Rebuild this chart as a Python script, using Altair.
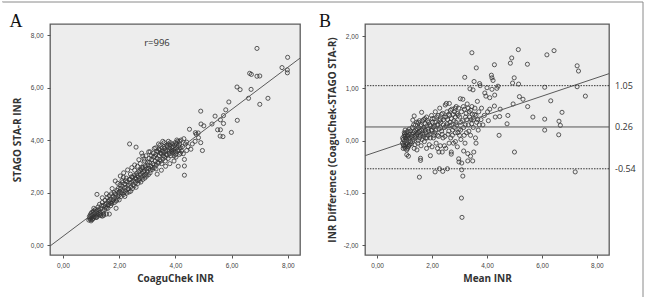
import altair as alt
import pandas as pd

# ---- Panel A: CoaguChek INR (x) vs STAGO STA-R INR (y) ----
a_low = [
    (0.92, 0.95), (0.95, 1.02), (0.98, 0.98), (1.00, 1.05), (1.02, 1.10), (1.04, 0.97),
    (1.05, 1.12), (1.08, 1.03), (1.10, 1.18), (1.12, 1.08), (0.97, 1.14), (1.00, 0.92),
    (1.06, 1.00), (1.14, 1.22), (1.16, 1.05), (1.18, 1.15), (1.20, 1.28), (0.94, 1.08),
    (1.03, 1.25), (1.22, 1.10), (1.25, 1.20), (1.28, 1.32), (1.30, 1.15), (1.35, 1.12),
    (1.40, 1.10), (1.45, 1.13), (1.10, 1.30), (1.15, 1.35), (1.00, 1.20), (1.08, 1.27),
    (1.35, 1.18), (1.45, 1.18), (1.55, 1.18), (1.65, 1.18),
]
a_band_1 = [
    (1.25, 1.45), (1.30, 1.55), (1.35, 1.38), (1.40, 1.62), (1.45, 1.50), (1.50, 1.70),
    (1.52, 1.45), (1.55, 1.60), (1.58, 1.80), (1.60, 1.52), (1.62, 1.68), (1.65, 1.88),
    (1.68, 1.60), (1.70, 1.75), (1.72, 1.95), (1.75, 1.65), (1.78, 1.85), (1.80, 1.72),
    (1.82, 2.00), (1.85, 1.80), (1.88, 1.92), (1.90, 1.68), (1.92, 2.08), (1.95, 1.85),
    (1.98, 1.98), (1.89, 1.40), (1.21, 1.93), (1.48, 1.35), (1.60, 1.40), (1.70, 1.50),
    (1.10, 1.40), (1.20, 1.05), (1.25, 1.35), (1.32, 1.25), (1.38, 1.50), (1.42, 1.30),
    (1.50, 1.55), (1.55, 1.40), (1.62, 1.55), (1.66, 1.72), (1.74, 1.58), (1.77, 1.70),
    (1.83, 1.62), (1.86, 1.95), (1.93, 1.75), (1.96, 2.15), (1.40, 1.80), (1.55, 1.95),
    (1.75, 2.15), (1.95, 2.35),
]
a_band_2 = [
    (2.00, 1.90), (2.02, 2.05), (2.05, 2.15), (2.08, 1.98), (2.10, 2.25), (2.12, 2.08),
    (2.15, 1.92), (2.18, 2.18), (2.20, 2.32), (2.22, 2.05), (2.25, 2.20), (2.28, 2.40),
    (2.30, 2.12), (2.32, 2.28), (2.35, 2.02), (2.38, 2.35), (2.40, 2.50), (2.42, 2.22),
    (2.45, 2.40), (2.48, 2.58), (2.50, 2.30), (2.52, 2.45), (2.55, 2.65), (2.58, 2.38),
    (2.60, 2.52), (2.62, 2.72), (2.65, 2.45), (2.68, 2.60), (2.70, 2.80), (2.72, 2.52),
    (2.75, 2.68), (2.78, 2.88), (2.80, 2.58), (2.82, 2.75), (2.85, 2.95), (2.88, 2.65),
    (2.90, 2.82), (2.92, 3.02), (2.95, 2.70), (2.98, 2.90), (1.86, 2.44), (2.04, 2.63),
    (2.16, 2.75), (2.30, 2.86), (2.37, 3.85), (2.60, 3.73), (2.80, 3.50), (2.84, 3.39),
    (2.88, 3.28), (2.10, 2.45), (2.25, 2.55), (2.40, 2.70), (2.55, 2.85), (2.65, 3.00),
    (2.75, 3.10), (2.90, 3.20),
    (2.00, 1.72), (2.03, 2.30), (2.07, 1.85), (2.12, 2.38), (2.17, 2.00), (2.20, 1.85),
    (2.23, 2.45), (2.27, 1.98), (2.33, 2.15), (2.36, 2.50), (2.41, 2.05), (2.44, 2.60),
    (2.47, 2.15), (2.53, 2.25), (2.57, 2.55), (2.60, 2.20), (2.64, 2.65), (2.67, 2.35),
    (2.71, 2.45), (2.74, 2.85), (2.77, 2.40), (2.81, 2.95), (2.84, 2.50), (2.87, 2.78),
    (2.91, 2.55), (2.94, 2.98), (2.97, 2.62), (2.45, 2.95), (2.55, 3.05), (2.70, 3.25),
    (2.15, 2.58),
]
a_band_3 = [
    (3.00, 2.80), (3.02, 3.05), (3.05, 2.92), (3.08, 3.15), (3.10, 2.75), (3.12, 3.00),
    (3.15, 3.25), (3.18, 2.88), (3.20, 3.10), (3.22, 3.35), (3.25, 2.95), (3.28, 3.20),
    (3.30, 3.45), (3.32, 3.05), (3.35, 3.30), (3.38, 3.55), (3.40, 3.12), (3.42, 3.40),
    (3.45, 3.62), (3.48, 3.20), (3.50, 3.48), (3.52, 3.70), (3.55, 3.28), (3.58, 3.52),
    (3.60, 3.75), (3.62, 3.35), (3.65, 3.58), (3.68, 3.80), (3.70, 3.42), (3.72, 3.62),
    (3.75, 3.85), (3.78, 3.48), (3.80, 3.68), (3.82, 3.90), (3.85, 3.55), (3.88, 3.72),
    (3.90, 3.50), (3.92, 3.60), (3.95, 3.40), (3.98, 3.65), (4.00, 3.55), (4.02, 3.35),
    (4.05, 3.70), (4.08, 3.95), (4.10, 3.00), (4.12, 3.60), (4.15, 3.85), (4.18, 3.50),
    (4.20, 4.00), (4.32, 3.26), (4.32, 3.01), (4.32, 2.66), (3.30, 3.70), (3.45, 3.80),
    (3.60, 3.90), (3.75, 3.95), (3.90, 3.85), (4.00, 3.90), (4.25, 3.75), (4.40, 3.60),
    (4.55, 3.65), (4.74, 4.22), (4.82, 4.09), (4.90, 3.90), (4.96, 3.60), (3.35, 2.70),
    (3.50, 2.85), (3.65, 3.00), (3.80, 3.10), (3.95, 3.20), (4.05, 4.00), (4.15, 3.95),
    (4.30, 4.05), (4.40, 3.92),
    (3.01, 3.15), (3.04, 2.68), (3.07, 3.30), (3.11, 2.85), (3.14, 3.40), (3.17, 2.95),
    (3.21, 3.50), (3.24, 3.05), (3.27, 3.38), (3.31, 2.90), (3.34, 3.58), (3.37, 3.15),
    (3.41, 3.65), (3.44, 3.25), (3.47, 3.50), (3.51, 3.10), (3.54, 3.58), (3.57, 3.40),
    (3.61, 3.68), (3.64, 3.20), (3.67, 3.45), (3.71, 3.75), (3.74, 3.30), (3.77, 3.58),
    (3.81, 3.80), (3.84, 3.40), (3.87, 3.62), (3.91, 3.75), (3.94, 3.55), (3.97, 3.80),
    (4.01, 3.45), (4.04, 3.85), (4.07, 3.62), (4.11, 3.78), (4.14, 3.45), (4.17, 3.70),
    (4.22, 3.58), (4.28, 3.48), (4.35, 3.85), (4.45, 3.75), (4.60, 3.85), (4.70, 3.95),
    (3.10, 3.55), (3.25, 3.68), (3.40, 3.85), (3.55, 3.95), (2.95, 3.40), (3.05, 3.55),
]
a_high = [
    (6.90, 7.49), (7.99, 7.15), (7.79, 6.76), (7.98, 6.67), (7.98, 6.56), (6.64, 6.54),
    (6.70, 6.50), (6.90, 6.43), (7.00, 6.44), (6.19, 6.02), (6.30, 5.92), (6.69, 5.93),
    (6.60, 5.59), (7.29, 5.59), (7.00, 5.36), (5.90, 5.45), (5.79, 5.15), (5.71, 4.93),
    (4.90, 5.10), (4.91, 4.61), (5.01, 4.54), (5.30, 4.61), (5.60, 4.77), (5.71, 4.63),
    (6.20, 4.75), (5.50, 4.39), (5.60, 4.39), (5.99, 4.29), (4.50, 4.41), (4.71, 4.28),
    (4.81, 4.27), (5.59, 4.15), (5.69, 4.13), (5.41, 4.91),
]

# fitted line endpoints and correlation note for panel A
fit_a_x = [-0.46, 8.43]
fit_a_y = [-0.04, 7.12]
r_note = "r=996"

# ---- Panel B: Bland-Altman, mean INR (x) vs difference (y) ----
b_cluster = [
    (0.92, -0.05), (0.95, 0.02), (0.97, -0.10), (0.98, 0.08), (1.00, -0.02), (1.00, 0.12),
    (1.02, -0.15), (1.03, 0.05), (1.05, -0.08), (1.05, 0.15), (1.07, 0.00), (1.08, -0.18),
    (1.10, 0.10), (1.10, -0.05), (1.12, 0.18), (1.13, -0.12), (1.15, 0.03), (1.17, 0.22),
    (1.18, -0.08), (1.20, 0.12), (0.95, -0.15), (1.02, 0.20), (1.22, -0.02), (1.25, 0.08),
    (1.08, -0.27), (1.14, -0.30),
    (0.93, 0.05), (0.96, -0.08), (0.99, 0.15), (1.01, -0.12), (1.04, 0.10), (1.06, -0.05),
    (1.09, 0.05), (1.11, -0.15), (1.13, 0.08), (1.16, -0.10), (1.19, 0.05), (1.21, 0.18),
    (1.24, -0.06), (1.27, 0.12), (1.29, -0.02),
]
b_band_1 = [
    (1.28, 0.25), (1.30, 0.39), (1.32, 0.02), (1.35, 0.47), (1.36, 0.18), (1.38, -0.08),
    (1.40, 0.30), (1.42, 0.10), (1.45, 0.22), (1.48, -0.05), (1.50, 0.35), (1.52, 0.15),
    (1.55, 0.05), (1.58, 0.28), (1.60, -0.10), (1.62, 0.54), (1.62, 0.20), (1.65, 0.38),
    (1.68, 0.08), (1.70, 0.25), (1.72, -0.02), (1.75, 0.32), (1.78, 0.15), (1.80, 0.45),
    (1.82, 0.05), (1.85, 0.22), (1.88, 0.35), (1.90, -0.08), (1.92, 0.12), (1.95, 0.28),
    (1.98, 0.48), (1.58, -0.34), (1.58, -0.38), (1.94, -0.29), (1.54, -0.70), (1.45, 0.12),
    (1.55, 0.18), (1.65, 0.12), (1.75, 0.20), (1.85, 0.10), (1.30, 0.15), (1.40, 0.05),
    (1.50, 0.00), (1.70, 0.40),
    (1.33, 0.30), (1.37, 0.08), (1.41, 0.20), (1.44, 0.35), (1.47, 0.15), (1.51, 0.25),
    (1.54, 0.38), (1.57, 0.10), (1.61, 0.30), (1.64, 0.02), (1.67, 0.22), (1.71, 0.12),
    (1.74, 0.42), (1.77, 0.05), (1.81, 0.28), (1.84, 0.38), (1.87, 0.18), (1.91, 0.30),
    (1.94, 0.05), (1.97, 0.20), (1.80, -0.15), (1.35, -0.15), (1.45, -0.18),
]
b_band_2 = [
    (2.00, 0.20), (2.02, 0.35), (2.05, 0.05), (2.08, 0.42), (2.10, 0.15), (2.12, 0.55),
    (2.15, -0.05), (2.18, 0.30), (2.20, 0.10), (2.22, 0.48), (2.25, 0.22), (2.28, 0.62),
    (2.30, -0.10), (2.32, 0.35), (2.35, 0.18), (2.38, 0.52), (2.40, 0.05), (2.42, 0.40),
    (2.45, 0.25), (2.48, 0.68), (2.50, -0.15), (2.52, 0.71), (2.55, 0.32), (2.58, 0.12),
    (2.60, 0.50), (2.63, 0.71), (2.65, 0.28), (2.68, 0.05), (2.70, 0.42), (2.72, 0.60),
    (2.75, 0.20), (2.78, -0.05), (2.80, 0.38), (2.82, 0.55), (2.85, 0.15), (2.88, 0.65),
    (2.90, 0.30), (2.92, -0.12), (2.95, 0.48), (2.98, 0.22), (2.25, -0.22), (2.37, -0.22),
    (2.70, -0.22), (2.70, -0.26), (2.11, -0.60), (2.27, -0.54), (2.39, -0.59), (2.56, -0.54),
    (2.97, -0.35), (2.98, -0.41), (2.10, 0.28), (2.30, 0.40), (2.50, 0.45), (2.65, 0.35),
    (2.85, 0.45),
    (2.01, 0.42), (2.04, 0.25), (2.07, 0.10), (2.11, 0.35), (2.14, 0.20), (2.17, 0.45),
    (2.21, 0.30), (2.24, 0.08), (2.27, 0.38), (2.31, 0.25), (2.34, 0.50), (2.37, 0.12),
    (2.41, 0.30), (2.44, 0.45), (2.47, 0.08), (2.51, 0.28), (2.54, 0.55), (2.57, 0.40),
    (2.61, 0.18), (2.64, 0.48), (2.67, 0.58), (2.71, 0.30), (2.74, 0.10), (2.77, 0.50),
    (2.81, 0.25), (2.84, 0.62), (2.87, 0.35), (2.91, 0.52), (2.94, 0.15), (2.97, 0.62),
    (2.20, -0.15), (2.45, -0.10), (2.62, -0.05), (2.85, -0.02), (2.00, -0.12),
]
b_band_3 = [
    (3.00, 0.10), (3.03, 0.80), (3.05, 0.35), (3.08, -0.56), (3.08, -0.43), (3.07, -1.10),
    (3.09, -1.47), (3.12, -0.68), (3.12, 0.79), (3.15, 0.25), (3.18, 0.60), (3.19, 1.21),
    (3.20, -0.05), (3.22, 0.45), (3.25, 0.15), (3.28, 0.70), (3.30, -0.39), (3.32, 0.30),
    (3.35, 0.55), (3.38, 0.99), (3.40, 0.10), (3.42, 0.40), (3.45, 1.68), (3.45, 0.65),
    (3.48, -0.39), (3.49, 0.97), (3.50, 0.25), (3.52, -0.22), (3.53, 1.13), (3.55, 0.50),
    (3.58, 0.05), (3.61, 1.39), (3.62, 0.35), (3.65, 0.75), (3.68, 0.20), (3.70, 0.55),
    (3.73, 1.09), (3.75, 1.05), (3.78, 0.40), (3.80, 0.62), (3.85, 0.30), (3.90, 0.48),
    (3.92, 0.91), (3.96, 0.85), (4.00, 1.01), (4.02, 0.55), (4.05, 0.38), (4.10, 0.82),
    (4.10, 0.60), (4.16, 1.25), (4.18, 1.20), (4.18, 0.98), (4.22, 1.15), (4.27, 1.45),
    (4.27, 0.66), (4.28, 0.87), (4.30, 0.45), (4.36, 1.00), (4.40, 1.04), (4.46, 0.46),
    (4.44, 0.10), (4.48, 0.60), (3.15, -0.20), (3.30, -0.25), (3.40, -0.30),
    (3.01, 0.45), (3.04, 0.20), (3.07, 0.55), (3.11, 0.38), (3.14, 0.65), (3.17, 0.10),
    (3.21, 0.30), (3.24, 0.52), (3.27, 0.40), (3.31, 0.62), (3.34, 0.18), (3.37, 0.45),
    (3.41, 0.58), (3.44, 0.32), (3.47, 0.50), (3.51, 0.40), (3.56, 0.62), (3.60, 0.48),
    (3.66, 0.40), (3.72, 0.30), (3.60, -0.05), (3.05, 0.02),
]
b_high = [
    (4.76, 0.48), (4.73, 0.32), (4.85, 1.48), (4.90, 1.58), (4.93, 1.10), (4.95, 0.70),
    (4.99, 1.20), (5.00, -0.22), (5.14, 1.74), (5.15, 1.08), (5.18, 0.84), (5.31, 0.79),
    (5.47, 1.46), (5.48, 0.65), (5.67, 0.45), (6.10, 1.02), (6.10, 0.41), (6.10, 0.20),
    (6.18, 1.64), (6.32, 0.76), (6.44, 1.72), (6.61, 0.11), (6.62, 0.37), (6.67, 0.29),
    (6.73, 0.54), (7.21, -0.60), (7.28, 1.43), (7.33, 1.33), (7.28, 1.03), (7.58, 0.85),
]

fit_b_x = [-0.44, 8.44]
fit_b_y = [-0.29, 1.28]

# mean difference and limits of agreement
loa_values = [1.05, 0.26, -0.54]
loa_labels = ["1.05", "0.26", "-0.54"]
loa_kind = ["limit", "mean", "limit"]

# ---- tables ----
pts_a = pd.DataFrame(a_low + a_band_1 + a_band_2 + a_band_3 + a_high,
                     columns=["coag", "stago"])
pts_b = pd.DataFrame(b_cluster + b_band_1 + b_band_2 + b_band_3 + b_high,
                     columns=["mean", "diff"])
line_a = pd.DataFrame({"coag": fit_a_x, "stago": fit_a_y})
line_b = pd.DataFrame({"mean": fit_b_x, "diff": fit_b_y})
loa = pd.DataFrame({"v": loa_values, "label": loa_labels, "kind": loa_kind})
one_row = pd.DataFrame({"k": [0]})  # single datum for annotations

TICK_FMT = "replace(replace(format(datum.value, '.2f'), '.', ','), '\u2212', '-')"
BOLD = "Open Sans"
INK = "#333333"
PT = dict(shape="circle", filled=False, size=17, stroke="#333333", strokeWidth=0.8, opacity=1)


def axis(title, values, title_pad):
    return alt.Axis(title=title, values=values, labelExpr=TICK_FMT, grid=False, domain=False,
                    tickSize=3, tickColor="#555555", labelFontSize=6.5, labelColor="#444444",
                    labelPadding=4, titleFontSize=10, titleFont=BOLD, titleFontWeight="bold",
                    titleColor=INK, titlePadding=title_pad)


sx_a = alt.Scale(domain=[-0.46, 8.43], nice=False, zero=False)
sy_a = alt.Scale(domain=[-0.38, 8.42], nice=False, zero=False)
sx_b = alt.Scale(domain=[-0.44, 8.44], nice=False, zero=False)
sy_b = alt.Scale(domain=[-2.19, 2.23], nice=False, zero=False)

xa = alt.X("coag:Q", scale=sx_a, axis=axis("CoaguChek INR", [0, 2, 4, 6, 8], 5))
ya = alt.Y("stago:Q", scale=sy_a, axis=axis("STAGO STA-R INR", [0, 2, 4, 6, 8], 8))

scatter_a = alt.Chart(pts_a).mark_point(**PT).encode(x=xa, y=ya)
fit_a = alt.Chart(line_a).mark_line(color="#5a5a5a", strokeWidth=1, clip=True).encode(x=xa, y=ya)
note_a = alt.Chart(one_row).mark_text(fontSize=9.5, font="Open Sans", color=INK).encode(
    x=alt.value(107), y=alt.value(19), text=alt.value(r_note))
letter_a = alt.Chart(one_row).mark_text(fontSize=18, font="Liberation Serif", color="#111111",
                                        baseline="alphabetic").encode(
    x=alt.value(-34), y=alt.value(3), text=alt.value("A"))

# figure frame: top and right edges; white left edge keeps the left margin
frame = [
    alt.Chart(one_row).mark_rule(color="#8a8a8a", strokeWidth=1).encode(
        x=alt.value(-48), x2=alt.value(593), y=alt.value(-22)),
    alt.Chart(one_row).mark_rule(color="#8a8a8a", strokeWidth=1).encode(
        x=alt.value(593), y=alt.value(-22), y2=alt.value(273)),
    alt.Chart(one_row).mark_rule(color="white", strokeWidth=1).encode(
        x=alt.value(-48), y=alt.value(-22), y2=alt.value(273)),
]

panel_a = alt.layer(scatter_a, fit_a, note_a, letter_a, *frame).properties(width=250, height=231)

xb = alt.X("mean:Q", scale=sx_b, axis=axis("Mean INR", [0, 2, 4, 6, 8], 5))
yb = alt.Y("diff:Q", scale=sy_b,
           axis=axis("INR Difference (CoaguChek-STAGO STA-R)", [-2, -1, 0, 1, 2], 6))

scatter_b = alt.Chart(pts_b).mark_point(**PT).encode(x=xb, y=yb)
fit_b = alt.Chart(line_b).mark_line(color="#5a5a5a", strokeWidth=1, clip=True).encode(x=xb, y=yb)
limits = alt.Chart(loa).transform_filter("datum.kind == 'limit'").mark_rule(
    color="#333333", strokeWidth=1, strokeDash=[1.5, 1.2]).encode(y=alt.Y("v:Q", scale=sy_b))
mean_line = alt.Chart(loa).transform_filter("datum.kind == 'mean'").mark_rule(
    color="#555555", strokeWidth=1).encode(y=alt.Y("v:Q", scale=sy_b))
loa_text = alt.Chart(loa).mark_text(align="left", fontSize=9, font="Open Sans", color=INK).encode(
    y=alt.Y("v:Q", scale=sy_b), x=alt.value(250), text="label:N")
letter_b = alt.Chart(one_row).mark_text(fontSize=18, font="Liberation Serif", color="#111111",
                                        baseline="alphabetic").encode(
    x=alt.value(-40), y=alt.value(3), text=alt.value("B"))

panel_b = alt.layer(scatter_b, fit_b, limits, mean_line, loa_text, letter_b).properties(
    width=244, height=231)

chart = alt.hconcat(panel_a, panel_b, spacing=65, bounds="flush").properties(
    padding=0, background="white"
).configure_view(stroke="#5c5c5c", strokeWidth=1.3, fill="#ededed").resolve_scale(
    x="independent", y="independent")

chart.save("out.html", embed_options={"renderer": "svg", "actions": False})
